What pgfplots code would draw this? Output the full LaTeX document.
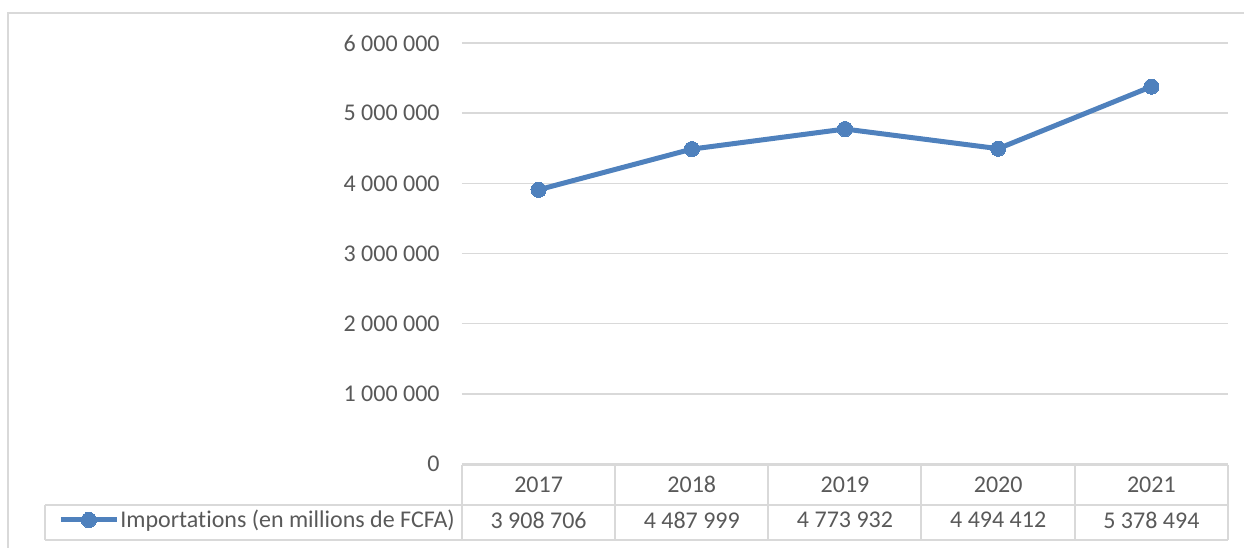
\documentclass[border=0pt]{standalone}
\usepackage{fontspec}
\setmainfont{Carlito}[Ligatures=NoCommon]
\usepackage{pgfplots}
\pgfplotsset{compat=1.18}
\definecolor{lineblue}{HTML}{4F81BD}
\definecolor{txt}{HTML}{595959}
\definecolor{grd}{HTML}{D9D9D9}
\newcommand{\fs}{\fontsize{12}{14}\selectfont}
\begin{document}
\begin{tikzpicture}
\useasboundingbox (0,0) rectangle (622pt,-273.5pt);
\draw[grd, line width=0.7pt] (4pt,-290pt) -- (4pt,-6.5pt) -- (640pt,-6.5pt);
\begin{axis}[
  scale only axis, width=383pt, height=210.5pt,
  at={(231pt,-232pt)}, anchor=south west,
  xmin=-0.5, xmax=4.5, ymin=0, ymax=6000000,
  axis line style={draw=none},
  major tick length=0pt,
  ymajorgrids, grid style={grd, line width=0.7pt},
  xtick={0,1,2,3,4},
  xticklabels={2017,2018,2019,2020,2021},
  ytick={0,1000000,2000000,3000000,4000000,5000000,6000000},
  yticklabels={0,1 000 000,2 000 000,3 000 000,4 000 000,5 000 000,6 000 000},
  scaled y ticks=false,
  /pgf/number format/assume math mode=true,
  xticklabel style={font=\fs, text=txt, anchor=center, yshift=-10.25pt},
  yticklabel style={font=\fs, text=txt, anchor=east, inner sep=0pt, xshift=-11pt},
  clip=false,
  legend style={draw=none, fill=none, at={(-0.5275,-0.133)}, anchor=west,
    inner sep=0pt, font=\fs, text=txt,
    nodes={inner sep=0.5pt}},
  legend cell align=left,
  legend image code/.code={\draw[mark repeat=2,mark phase=2,#1] plot coordinates {(0pt,0pt) (14pt,0pt) (28pt,0pt)};},
]
\addplot[lineblue, line width=2.5pt, mark=*, mark size=3.8pt,
  mark options={solid, fill=lineblue, draw=lineblue, line width=0pt}]
  coordinates {(0,3908706) (1,4487999) (2,4773932) (3,4494412) (4,5378494)};
\addlegendentry{Importations (en millions de FCFA)}
\node[font=\fs, text=txt, yshift=-28pt] at (axis cs:0,0) {3 908 706};
\node[font=\fs, text=txt, yshift=-28pt] at (axis cs:1,0) {4 487 999};
\node[font=\fs, text=txt, yshift=-28pt] at (axis cs:2,0) {4 773 932};
\node[font=\fs, text=txt, yshift=-28pt] at (axis cs:3,0) {4 494 412};
\node[font=\fs, text=txt, yshift=-28pt] at (axis cs:4,0) {5 378 494};
\end{axis}
\begin{scope}[x=0.5pt, y=-0.5pt, grd, line width=0.7pt]
\draw (462,465) -- (1228,465);
\draw (45,505) -- (1228,505);
\draw (45,540) -- (1228,540);
\draw (45,505) -- (45,540);
\foreach \xx in {462,615,768,921,1075,1228} {\draw (\xx,465) -- (\xx,540);}
\end{scope}
\end{tikzpicture}
\end{document}
